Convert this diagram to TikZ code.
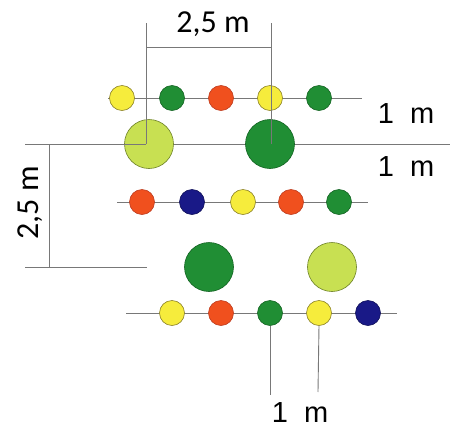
\documentclass[tikz,border=0pt]{standalone}
\usepackage{fontspec}
\setmainfont{Liberation Sans}
\newfontfamily\calfont{Carlito}
\definecolor{cyel}{RGB}{246,236,60}
\definecolor{cyelb}{RGB}{140,130,40}
\definecolor{cred}{RGB}{240,80,30}
\definecolor{credb}{RGB}{190,60,30}
\definecolor{cgrn}{RGB}{32,142,52}
\definecolor{cgrnb}{RGB}{20,100,35}
\definecolor{cblu}{RGB}{25,25,135}
\definecolor{cblub}{RGB}{15,15,90}
\definecolor{clgr}{RGB}{200,224,82}
\definecolor{clgrb}{RGB}{110,130,40}
\definecolor{cline}{RGB}{120,120,120}
\begin{document}
\begin{tikzpicture}[x=1pt,y=-1pt,
  ln/.style={draw=cline,line width=0.9pt},
  sm/.style={circle,inner sep=0pt,minimum size=25pt,line width=0.6pt},
  bg/.style={circle,inner sep=0pt,minimum size=49pt,line width=0.6pt},
  Y/.style={fill=cyel,draw=cyelb},
  R/.style={fill=cred,draw=credb},
  G/.style={fill=cgrn,draw=cgrnb},
  B/.style={fill=cblu,draw=cblub},
  L/.style={fill=clgr,draw=clgrb},
  lab/.style={font=\fontsize{29}{29}\selectfont,inner sep=0pt},
  clab/.style={font=\calfont\fontsize{32}{32}\selectfont,inner sep=0pt}]
\useasboundingbox (0,0) rectangle (451,429);
% row lines
\coordinate (r1a) at (108,98);  \coordinate (r1b) at (362,98);
\coordinate (r2a) at (25,144);  \coordinate (r2b) at (450,144);
\coordinate (r3a) at (117,202); \coordinate (r3b) at (368,202);
\coordinate (r5a) at (126,313); \coordinate (r5b) at (397,313);
\draw[ln] (r1a) -- (r1b);
\draw[ln] (r2a) -- (r2b);
\draw[ln] (r3a) -- (r3b);
\draw[ln] (r5a) -- (r5b);
% bottom dimension lines
\coordinate (b1) at (270,395); \coordinate (b2) at (318,392);
% row 1
\node[sm,Y] (a1) at (122,98) {};
\node[sm,G] (a2) at (172,98) {};
\node[sm,R] (a3) at (221,98) {};
\node[sm,Y] (a4) at (270,98) {};
\node[sm,G] (a5) at (319,98) {};
% row 2
\node[bg,L] (big1) at (149,144) {};
\node[bg,G] (big2) at (270,144) {};
% row 3
\node[sm,R] (c1) at (142,202) {};
\node[sm,B] (c2) at (192,202) {};
\node[sm,Y] (c3) at (243,202) {};
\node[sm,R] (c4) at (291,202) {};
\node[sm,G] (c5) at (339,202) {};
% row 4
\node[bg,G] (big3) at (209,267) {};
\node[bg,L] (big4) at (332,267) {};
% row 5
\node[sm,Y] (e1) at (172,313) {};
\node[sm,R] (e2) at (221,313) {};
\node[sm,G] (e3) at (270,313) {};
\node[sm,Y] (e4) at (319,313) {};
\node[sm,B] (e5) at (368,313) {};
\draw[ln] (e3.south) -- (b1);
\draw[ln] (e4.south) -- (b2);
% top dimension
\coordinate (t1) at (146,23); \coordinate (t2) at (271,23);
\coordinate (t1c) at (146,144); \coordinate (t2c) at (271,144);
\coordinate (h1) at (146,47); \coordinate (h2) at (271,47);
\draw[ln] (t1) -- (t1c);
\draw[ln] (t2) -- (t2c);
\draw[ln] (h1) -- (h2);
\draw[ln] (r2a) -- (t1c);
% left dimension
\coordinate (v1) at (49,144); \coordinate (v2) at (49,267);
\coordinate (l2a) at (25,267); \coordinate (l2b) at (147,267);
\draw[ln] (v1) -- (v2);
\draw[ln] (l2a) -- (l2b);
% labels
\node[clab] (ttop) at (213,24) {2,5 m};
\node[clab,rotate=90] (tleft) at (30,203) {2,5 m};
\node[lab] (tr1) at (406,114) {1\ \ m};
\node[lab] (tr2) at (406,167) {1\ \ m};
\node[lab] (tb) at (300,413) {1\ \ m};
\end{tikzpicture}
\end{document}
